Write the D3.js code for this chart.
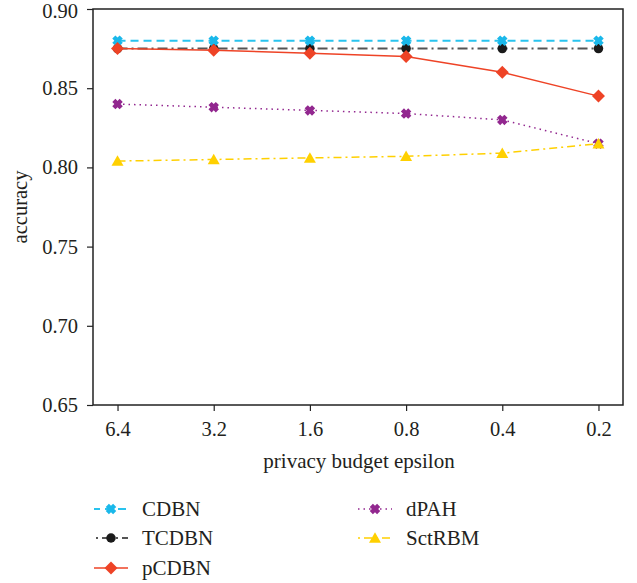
<!DOCTYPE html>
<html><head><meta charset="utf-8">
<script src="https://cdn.jsdelivr.net/npm/d3@7"></script>
<style>body{margin:0;background:#fff}svg{display:block}</style>
</head><body><svg id="c" width="637" height="583"></svg>
<script>
const categories = ["6.4","3.2","1.6","0.8","0.4","0.2"];
const yTicks = [0.65,0.70,0.75,0.80,0.85,0.90];
const CDBN   = [0.880,0.880,0.880,0.880,0.880,0.880];
const TCDBN  = [0.875,0.875,0.875,0.875,0.875,0.875];
const pCDBN  = [0.875,0.874,0.872,0.870,0.860,0.845];
const dPAH   = [0.840,0.838,0.836,0.834,0.830,0.815];
const SctRBM = [0.804,0.805,0.806,0.807,0.809,0.815];
const seriesNames = ["CDBN","TCDBN","pCDBN","dPAH","SctRBM"];

const font = "'Liberation Serif', 'DejaVu Serif', serif";
const svg = d3.select("#c");
const m = {l:93, t:9, r:623, b:405};
const x = d3.scalePoint().domain(categories).range([m.l, m.r]).padding(0.255);
const y = d3.scaleLinear().domain([0.65,0.90]).range([m.b, m.t]);

// custom symbol types (size = linear extent in px)
const symX = {draw(ctx, s){ const a=s*0.5, w=s*0.3;
  const pts=[[-w,0],[-a,-a+w],[-a+w,-a],[0,-w],[a-w,-a],[a,-a+w],[w,0],[a,a-w],[a-w,a],[0,w],[-a+w,a],[-a,a-w]];
  ctx.moveTo(pts[0][0],pts[0][1]); pts.slice(1).forEach(p=>ctx.lineTo(p[0],p[1])); ctx.closePath(); }};
const symCircle = {draw(ctx, s){ ctx.moveTo(s/2,0); ctx.arc(0,0,s/2,0,2*Math.PI); }};
const symDiamond = {draw(ctx, s){ const a=s/2; ctx.moveTo(0,-a); ctx.lineTo(a,0); ctx.lineTo(0,a); ctx.lineTo(-a,0); ctx.closePath(); }};
const symTri = {draw(ctx, s){ const a=s/2; ctx.moveTo(0,-a*0.95); ctx.lineTo(a,a*0.8); ctx.lineTo(-a,a*0.8); ctx.closePath(); }};

const styles = {
  CDBN:  {data:CDBN,  color:"#29c3ee", mcolor:"#1ab8ea", dash:"8,5", off:0, w:2, sym:symX, size:10.5},
  TCDBN: {data:TCDBN, color:"#555555", mcolor:"#1a1a1a", dash:"10,4,2,4", off:0, w:2, sym:symCircle, size:9.5},
  pCDBN: {data:pCDBN, color:"#ee4326", mcolor:"#ee4326", dash:null, off:0, w:1.5, sym:symDiamond, size:13},
  dPAH:  {data:dPAH,  color:"#92278f", mcolor:"#92278f", dash:"1.5,4", off:0, w:1.5, sym:symX, size:10.5},
  SctRBM:{data:SctRBM,color:"#ffd000", mcolor:"#ffd000", dash:"8,4,2,4", off:0, w:1.5, sym:symTri, size:12}
};
const legOffset = {CDBN:2, TCDBN:12, pCDBN:0, dPAH:0, SctRBM:12};

// frame
svg.append("rect").attr("x",m.l).attr("y",m.t).attr("width",m.r-m.l).attr("height",m.b-m.t)
  .attr("fill","none").attr("stroke","#222").attr("stroke-width",1.5);

// axes
const ya = svg.append("g").attr("transform",`translate(${m.l},0)`)
  .call(d3.axisLeft(y).tickValues(yTicks).tickFormat(d3.format(".2f")).tickSize(6).tickPadding(9));
const xa = svg.append("g").attr("transform",`translate(0,${m.b})`)
  .call(d3.axisBottom(x).tickSize(6).tickPadding(10));
[ya,xa].forEach(g=>{ g.select(".domain").remove();
  g.selectAll("line").attr("stroke","#222").attr("stroke-width",1.2);
  g.selectAll("text").attr("font-family",font).attr("font-size",20.5).attr("fill","#231f20"); });
ya.selectAll("text").filter(d=>d===0.90).attr("dy","0.4em");

svg.append("text").attr("x",(m.l+m.r)/2+1).attr("y",468).attr("text-anchor","middle")
  .attr("font-family",font).attr("font-size",21).attr("fill","#231f20").text("privacy budget epsilon");
svg.append("text").attr("transform",`translate(27,${(m.t+m.b)/2}) rotate(-90)`).attr("text-anchor","middle")
  .attr("font-family",font).attr("font-size",20.5).attr("fill","#231f20").text("accuracy");

const line = d3.line().x((d,i)=>x(categories[i])).y(d=>y(d));
const order = ["TCDBN","CDBN","dPAH","SctRBM","pCDBN"];
order.forEach(n=>{
  const s = styles[n];
  svg.append("path").datum(s.data).attr("d",line).attr("fill","none")
    .attr("stroke",s.color).attr("stroke-width",s.w).attr("stroke-dasharray",s.dash);
});
order.forEach(n=>{
  const s = styles[n];
  svg.append("g").selectAll("path").data(s.data).join("path")
    .attr("transform",(d,i)=>`translate(${x(categories[i])},${y(d)})`)
    .attr("d", d3.symbol().type(s.sym).size(s.size)).attr("fill",s.mcolor);
});

// legend
const legPos = {CDBN:[94,509],TCDBN:[94,538],pCDBN:[94,568],dPAH:[358,509],SctRBM:[358,538]};
seriesNames.forEach(n=>{
  const s = styles[n], [lx,ly] = legPos[n];
  const g = svg.append("g").attr("transform",`translate(${lx},${ly})`);
  g.append("line").attr("x1",0).attr("x2",34).attr("y1",0).attr("y2",0)
    .attr("stroke",s.color).attr("stroke-width",s.w).attr("stroke-dasharray",s.dash)
    .attr("stroke-dashoffset",legOffset[n]);
  g.append("path").attr("transform","translate(17,0)").attr("d",d3.symbol().type(s.sym).size(s.size)).attr("fill",s.mcolor);
  g.append("text").attr("x",48).attr("y",7).attr("font-family",font).attr("font-size",21)
    .attr("fill","#231f20").text(n);
});
</script></body></html>
